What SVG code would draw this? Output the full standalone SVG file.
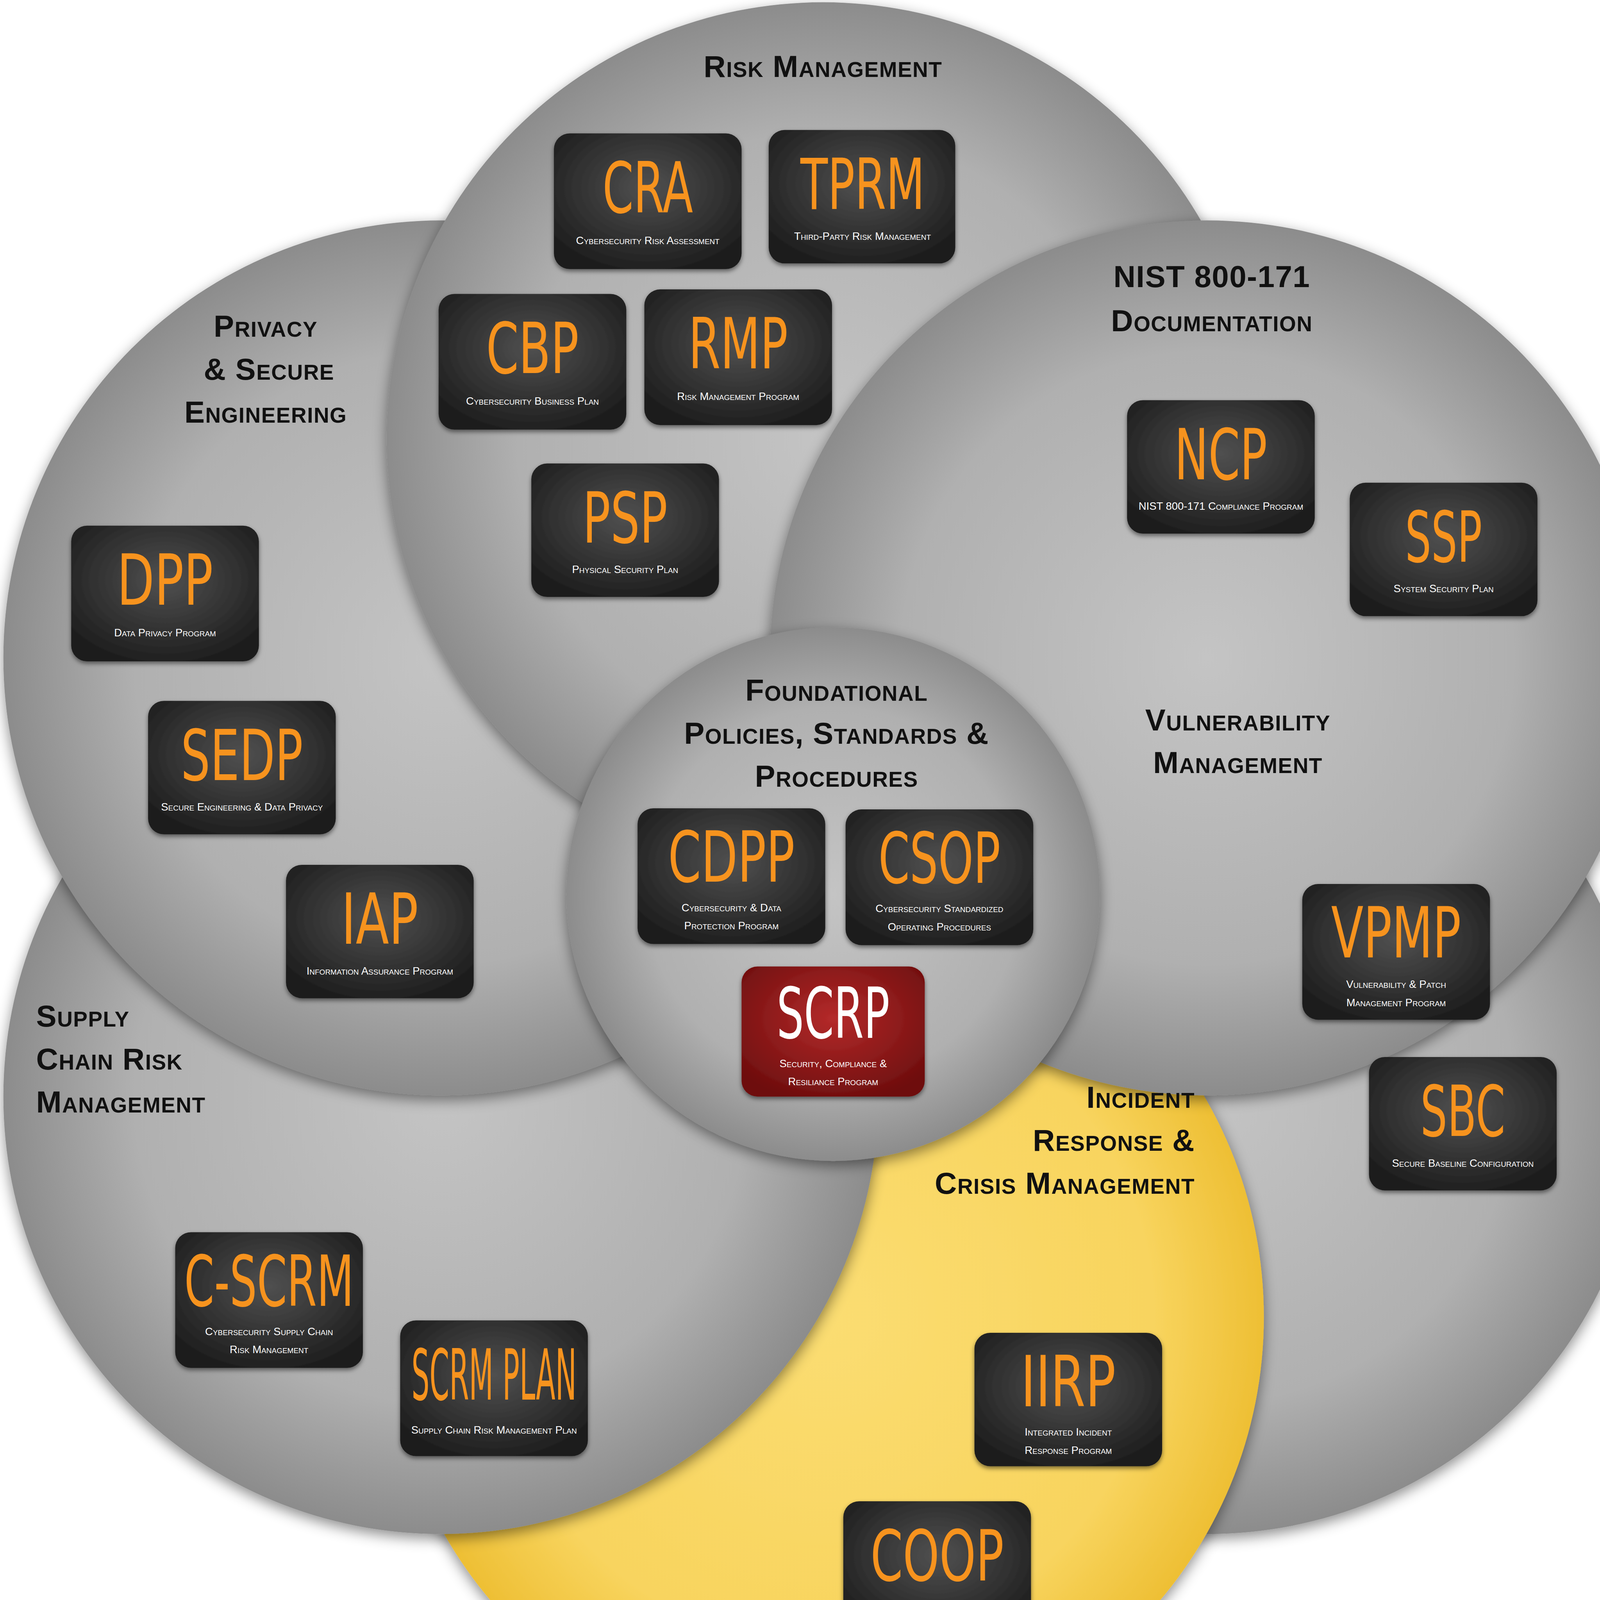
<svg xmlns="http://www.w3.org/2000/svg" width="4234" height="4542" viewBox="0 0 4234 4542">
<defs>
<radialGradient id="gg" cx="0.5" cy="0.5" r="0.5"><stop offset="0" stop-color="#c4c4c4"/><stop offset="0.7" stop-color="#b0b0b0"/><stop offset="1" stop-color="#8c8c8c"/></radialGradient>
<radialGradient id="gy" cx="0.5" cy="0.5" r="0.5"><stop offset="0" stop-color="#fbdd72"/><stop offset="0.75" stop-color="#f8d45e"/><stop offset="1" stop-color="#eebf34"/></radialGradient>
<radialGradient id="gb" cx="0.5" cy="0.4" r="0.65"><stop offset="0" stop-color="#505050"/><stop offset="1" stop-color="#1c1c1c"/></radialGradient>
<radialGradient id="gr" cx="0.5" cy="0.4" r="0.65"><stop offset="0" stop-color="#b42a2a"/><stop offset="1" stop-color="#6e0e0e"/></radialGradient>
<filter id="sh" x="-20%" y="-20%" width="140%" height="140%"><feDropShadow dx="0" dy="4" stdDeviation="6" flood-color="#000" flood-opacity="0.45"/></filter>
<filter id="bs" x="-20%" y="-20%" width="140%" height="140%"><feDropShadow dx="0" dy="2" stdDeviation="2" flood-color="#000" flood-opacity="0.5"/></filter>
</defs>
<style>
.c{fill:url(#gg);filter:url(#sh)}
.lbl{font-family:"Liberation Sans",Arial,sans-serif;font-weight:bold;font-variant:small-caps;font-size:27px;fill:#111;letter-spacing:0.5px}
.t{font-family:"DejaVu Sans","Liberation Sans",sans-serif;font-size:62px;fill:#f7931e;text-anchor:middle}
.s{font-family:"Liberation Sans",Arial,sans-serif;font-variant:small-caps;font-size:9.5px;fill:#fff;text-anchor:middle}
.b{fill:url(#gb);filter:url(#bs)}
</style>
<g transform="scale(2.894)">
<g id="circles">
<circle id="vuln" class="c" cx="1068" cy="970" r="387"/>
<circle id="incident" cx="730" cy="1165" r="388" fill="url(#gy)" filter="url(#sh)"/>
<circle id="supply" class="c" cx="390" cy="970" r="387"/>
<circle id="privacy" class="c" cx="390" cy="582" r="387"/>
<circle id="risk" class="c" cx="728" cy="388" r="386"/>
<circle id="nist" class="c" cx="1068" cy="582" r="387"/>
<circle id="found" class="c" cx="737" cy="791" r="236"/>
</g>
<g id="labels" class="lbl">
<text x="728" y="68" text-anchor="middle">Risk Management</text>
<text text-anchor="middle"><tspan x="235" y="298">Privacy</tspan><tspan x="238" y="336">&amp; Secure</tspan><tspan x="235" y="374">Engineering</tspan></text>
<text text-anchor="middle"><tspan x="1072" y="254">NIST 800-171</tspan><tspan x="1072" y="293">Documentation</tspan></text>
<text text-anchor="middle"><tspan x="740" y="620">Foundational</tspan><tspan x="740" y="658">Policies, Standards &amp;</tspan><tspan x="740" y="696">Procedures</tspan></text>
<text text-anchor="middle"><tspan x="1095" y="646">Vulnerability</tspan><tspan x="1095" y="684">Management</tspan></text>
<text><tspan x="32" y="908">Supply</tspan><tspan x="32" y="946">Chain Risk</tspan><tspan x="32" y="984">Management</tspan></text>
<text text-anchor="end"><tspan x="1057" y="980">Incident</tspan><tspan x="1057" y="1018">Response &amp;</tspan><tspan x="1057" y="1056">Crisis Management</tspan></text>
</g>
<g id="CRA" transform="translate(490,118)"><rect class="b" width="166" height="120" rx="14"/><text class="t" x="83" y="70" textLength="80" lengthAdjust="spacingAndGlyphs">CRA</text><text class="s" x="83" y="98">Cybersecurity Risk Assessment</text></g>
<g id="TPRM" transform="translate(680,115)"><rect class="b" width="165" height="118" rx="14"/><text class="t" x="83" y="70" textLength="110" lengthAdjust="spacingAndGlyphs">TPRM</text><text class="s" x="83" y="97">Third-Party Risk Management</text></g>
<g id="CBP" transform="translate(388,260)"><rect class="b" width="166" height="120" rx="14"/><text class="t" x="83" y="70" textLength="82" lengthAdjust="spacingAndGlyphs">CBP</text><text class="s" x="83" y="98">Cybersecurity Business Plan</text></g>
<g id="RMP" transform="translate(570,256)"><rect class="b" width="166" height="120" rx="14"/><text class="t" x="83" y="70" textLength="88" lengthAdjust="spacingAndGlyphs">RMP</text><text class="s" x="83" y="98">Risk Management Program</text></g>
<g id="PSP" transform="translate(470,410)"><rect class="b" width="166" height="118" rx="14"/><text class="t" x="83" y="70" textLength="75" lengthAdjust="spacingAndGlyphs">PSP</text><text class="s" x="83" y="97">Physical Security Plan</text></g>
<g id="NCP" transform="translate(997,354)"><rect class="b" width="166" height="118" rx="14"/><text class="t" x="83" y="70" textLength="82" lengthAdjust="spacingAndGlyphs">NCP</text><text class="s" x="83" y="97">NIST 800-171 Compliance Program</text></g>
<g id="SSP" transform="translate(1194,427)"><rect class="b" width="166" height="118" rx="14"/><text class="t" x="83" y="70" textLength="68" lengthAdjust="spacingAndGlyphs">SSP</text><text class="s" x="83" y="97">System Security Plan</text></g>
<g id="DPP" transform="translate(63,465)"><rect class="b" width="166" height="120" rx="14"/><text class="t" x="83" y="70" textLength="85" lengthAdjust="spacingAndGlyphs">DPP</text><text class="s" x="83" y="98">Data Privacy Program</text></g>
<g id="SEDP" transform="translate(131,620)"><rect class="b" width="166" height="118" rx="14"/><text class="t" x="83" y="70" textLength="108" lengthAdjust="spacingAndGlyphs">SEDP</text><text class="s" x="83" y="97">Secure Engineering &amp; Data Privacy</text></g>
<g id="IAP" transform="translate(253,765)"><rect class="b" width="166" height="118" rx="14"/><text class="t" x="83" y="70" textLength="68" lengthAdjust="spacingAndGlyphs">IAP</text><text class="s" x="83" y="97">Information Assurance Program</text></g>
<g id="CDPP" transform="translate(564,715)"><rect class="b" width="166" height="120" rx="14"/><text class="t" x="83" y="65" textLength="112" lengthAdjust="spacingAndGlyphs">CDPP</text><text class="s" x="83" y="91">Cybersecurity &amp; Data</text><text class="s" x="83" y="107">Protection Program</text></g>
<g id="CSOP" transform="translate(748,716)"><rect class="b" width="166" height="120" rx="14"/><text class="t" x="83" y="65" textLength="108" lengthAdjust="spacingAndGlyphs">CSOP</text><text class="s" x="83" y="91">Cybersecurity Standardized</text><text class="s" x="83" y="107">Operating Procedures</text></g>
<g id="SCRP" transform="translate(656,855)"><rect width="162" height="115" rx="14" fill="url(#gr)" filter="url(#bs)"/><text class="t" x="81" y="63" textLength="100" lengthAdjust="spacingAndGlyphs" fill="#fff" style="fill:#fff">SCRP</text><text class="s" x="81" y="89">Security, Compliance &amp;</text><text class="s" x="81" y="105">Resiliance Program</text></g>
<g id="VPMP" transform="translate(1152,782)"><rect class="b" width="166" height="120" rx="14"/><text class="t" x="83" y="65" textLength="115" lengthAdjust="spacingAndGlyphs">VPMP</text><text class="s" x="83" y="92">Vulnerability &amp; Patch</text><text class="s" x="83" y="108">Management Program</text></g>
<g id="SBC" transform="translate(1211,935)"><rect class="b" width="166" height="118" rx="14"/><text class="t" x="83" y="70" textLength="75" lengthAdjust="spacingAndGlyphs">SBC</text><text class="s" x="83" y="97">Secure Baseline Configuration</text></g>
<g id="C-SCRM" transform="translate(155,1090)"><rect class="b" width="166" height="120" rx="14"/><text class="t" x="83" y="65" textLength="150" lengthAdjust="spacingAndGlyphs">C-SCRM</text><text class="s" x="83" y="91">Cybersecurity Supply Chain</text><text class="s" x="83" y="107">Risk Management</text></g>
<g id="SCRM-PLAN" transform="translate(354,1168)"><rect class="b" width="166" height="120" rx="14"/><text class="t" x="83" y="70" textLength="146" lengthAdjust="spacingAndGlyphs">SCRM PLAN</text><text class="s" x="83" y="100">Supply Chain Risk Management Plan</text></g>
<g id="IIRP" transform="translate(862,1179)"><rect class="b" width="166" height="118" rx="14"/><text class="t" x="83" y="65" textLength="84" lengthAdjust="spacingAndGlyphs">IIRP</text><text class="s" x="83" y="91">Integrated Incident</text><text class="s" x="83" y="107">Response Program</text></g>
<g id="COOP" transform="translate(746,1328)"><rect class="b" width="166" height="120" rx="14"/><text class="t" x="83" y="70" textLength="118" lengthAdjust="spacingAndGlyphs">COOP</text><text class="s" x="83" y="98">Continuity Of Operations Plan</text></g>
<g id="connectors"/>
</g>
</svg>
